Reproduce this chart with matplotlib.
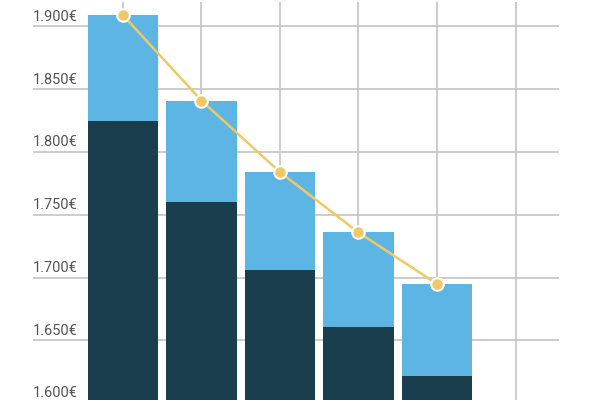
import matplotlib.pyplot as plt
from matplotlib.transforms import offset_copy

# values
positions = [0, 1, 2, 3, 4]
base_values = [1824.5, 1760.5, 1706.0, 1661.0, 1621.5]
total_values = [1909.0, 1841.0, 1784.0, 1736.0, 1695.0]
y_ticks = [1600, 1650, 1700, 1750, 1800, 1850, 1900]
y_labels = ["1.600€", "1.650€", "1.700€", "1.750€", "1.800€", "1.850€", "1.900€"]
x_grid = [0, 1, 2, 3, 4, 5]

dark = "#1b3e4f"
light = "#5db5e3"
yellow = "#f1c864"
grid_color = "#c4c4c4"

plt.rcParams["font.family"] = ["Roboto", "DejaVu Sans"]

fig = plt.figure(figsize=(6, 4), dpi=100)
ax = fig.add_axes([33 / 600, 0, 526 / 600, 398 / 400])

bottom = 1500
top_parts = [t - b for t, b in zip(total_values, base_values)]
base_heights = [b - bottom for b in base_values]

ax.bar(positions, base_heights, bottom=bottom, width=0.9, color=dark, zorder=2)
ax.bar(positions, top_parts, bottom=base_values, width=0.9, color=light, zorder=2)
ax.plot(positions, total_values, color=yellow, lw=1.8, marker="o", ms=9,
        markerfacecolor=yellow, markeredgecolor="white", markeredgewidth=1.5,
        zorder=3)

for x in x_grid:
    ax.axvline(x, color=grid_color, lw=1.2, zorder=1)
for y in y_ticks:
    ax.axhline(y, color=grid_color, lw=1.2, zorder=1)

label_tr = offset_copy(ax.get_yaxis_transform(), fig=fig, x=0, y=2, units="points")
for y, lab in zip(y_ticks, y_labels):
    ax.text(0, y, lab, transform=label_tr, ha="left", va="bottom",
            fontsize=10.5, color="#555555", zorder=4)

ax.set_xlim(-1.146, 5.554)
ax.set_ylim(1602.6, 1919.5)
ax.set_xticks([])
ax.set_yticks([])
for s in ax.spines.values():
    s.set_visible(False)

plt.savefig("out.png", dpi=100)
